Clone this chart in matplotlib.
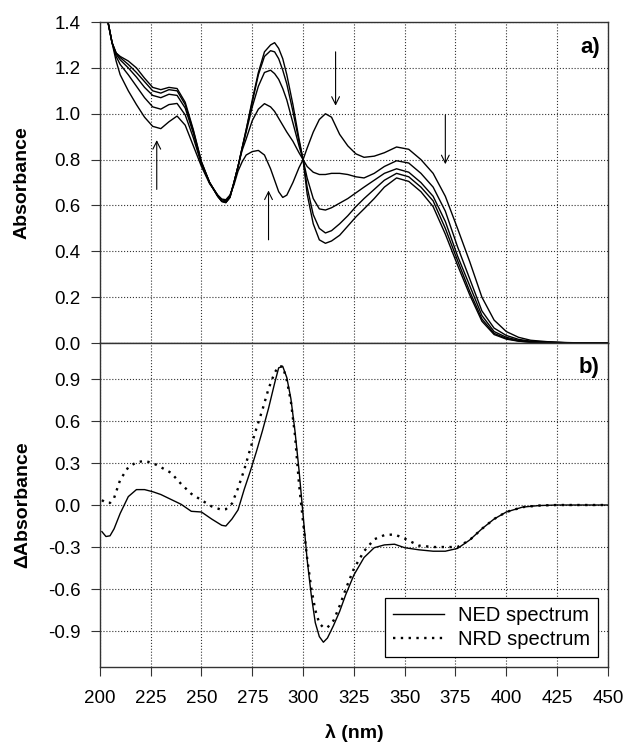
import matplotlib
matplotlib.use('Agg')
import matplotlib.pyplot as plt

plt.rcParams['font.family'] = ['Liberation Sans', 'DejaVu Sans']

# a) スペクトル変化（波長グリッドと5本の吸収スペクトル）
wl_a = [200, 202, 204, 206, 208, 210, 214, 218, 222, 226, 230, 234, 238, 242, 246, 250,
        254, 258, 260, 262, 264, 266, 268, 270, 272, 275, 278, 281, 284, 286, 288, 290, 292, 295,
        298, 300, 302, 305, 308, 311, 314, 318, 322, 326, 330, 335, 340, 346, 352, 358,
        364, 370, 376, 382, 388, 394, 400, 406, 412, 420, 430, 440, 450]
abs_1 = [1.62, 1.50, 1.40, 1.31, 1.23, 1.17, 1.10, 1.04, 0.985, 0.945, 0.935, 0.965, 0.99,
         0.95, 0.86, 0.77, 0.695, 0.645, 0.628, 0.625, 0.645, 0.69, 0.75, 0.79, 0.82, 0.835, 0.84, 0.82,
         0.76, 0.71, 0.66, 0.635, 0.645, 0.70, 0.765, 0.80, 0.85, 0.92, 0.975, 1.0, 0.985,
         0.91, 0.86, 0.825, 0.81, 0.815, 0.83, 0.855, 0.845, 0.80, 0.74, 0.64, 0.50, 0.355,
         0.20, 0.10, 0.05, 0.025, 0.012, 0.006, 0.002, 0.0, 0.0]
abs_2 = [1.62, 1.50, 1.40, 1.31, 1.25, 1.215, 1.17, 1.12, 1.07, 1.03, 1.02, 1.04, 1.045,
         0.995, 0.895, 0.78, 0.70, 0.645, 0.625, 0.62, 0.64, 0.70, 0.77, 0.84, 0.89, 0.97, 1.02, 1.044,
         1.03, 1.01, 0.98, 0.95, 0.92, 0.88, 0.83, 0.80, 0.77, 0.745, 0.735, 0.735, 0.74,
         0.74, 0.735, 0.725, 0.72, 0.74, 0.77, 0.795, 0.785, 0.74, 0.68, 0.575, 0.42, 0.28,
         0.14, 0.065, 0.033, 0.016, 0.008, 0.004, 0.001, 0.0, 0.0]
abs_3 = [1.62, 1.50, 1.40, 1.31, 1.26, 1.235, 1.20, 1.16, 1.115, 1.08, 1.07, 1.085, 1.08,
         1.025, 0.915, 0.785, 0.70, 0.64, 0.62, 0.615, 0.635, 0.70, 0.77, 0.85, 0.92, 1.03, 1.12, 1.18,
         1.19, 1.175, 1.15, 1.11, 1.06, 0.96, 0.86, 0.80, 0.72, 0.63, 0.585, 0.58, 0.59,
         0.61, 0.63, 0.655, 0.68, 0.71, 0.74, 0.76, 0.745, 0.70, 0.64, 0.53, 0.38, 0.25,
         0.12, 0.05, 0.025, 0.012, 0.006, 0.003, 0.001, 0.0, 0.0]
abs_4 = [1.62, 1.50, 1.40, 1.31, 1.265, 1.245, 1.215, 1.18, 1.14, 1.10, 1.09, 1.105, 1.10,
         1.04, 0.925, 0.79, 0.70, 0.64, 0.618, 0.613, 0.635, 0.70, 0.77, 0.85, 0.93, 1.05, 1.17, 1.25,
         1.275, 1.27, 1.24, 1.19, 1.13, 1.01, 0.88, 0.80, 0.68, 0.56, 0.50, 0.48, 0.49,
         0.52, 0.555, 0.595, 0.63, 0.67, 0.71, 0.74, 0.725, 0.68, 0.62, 0.50, 0.36, 0.225,
         0.105, 0.042, 0.02, 0.009, 0.004, 0.002, 0.0, 0.0, 0.0]
abs_5 = [1.62, 1.50, 1.40, 1.31, 1.265, 1.25, 1.23, 1.20, 1.155, 1.115, 1.105, 1.115, 1.11,
         1.05, 0.93, 0.79, 0.70, 0.64, 0.617, 0.612, 0.635, 0.70, 0.77, 0.85, 0.93, 1.06, 1.18, 1.27,
         1.30, 1.31, 1.285, 1.24, 1.17, 1.04, 0.89, 0.80, 0.65, 0.52, 0.45, 0.435, 0.445,
         0.47, 0.51, 0.55, 0.585, 0.63, 0.68, 0.72, 0.705, 0.66, 0.595, 0.475, 0.34, 0.21,
         0.095, 0.037, 0.017, 0.008, 0.003, 0.001, 0.0, 0.0, 0.0]

# b) 差スペクトル
wl_b = [201, 203, 205, 207, 210, 214, 218, 222, 226, 230, 235, 240, 245, 250, 255, 260,
        262, 265, 268, 271, 274, 277, 280, 283, 286, 288, 290, 292, 294, 296, 298, 300,
        302, 304, 306, 308, 310, 312, 315, 318, 321, 325, 330, 335, 340, 345, 350, 357,
        364, 370, 376, 382, 388, 394, 400, 408, 416, 425, 435, 450]
ned = [-0.19, -0.225, -0.22, -0.17, -0.06, 0.06, 0.11, 0.11, 0.095, 0.075, 0.04, 0.005,
       -0.045, -0.05, -0.10, -0.145, -0.15, -0.10, -0.035, 0.11, 0.24, 0.38, 0.53, 0.69,
       0.87, 0.98, 0.99, 0.91, 0.76, 0.53, 0.25, -0.07, -0.39, -0.64, -0.84, -0.94, -0.98,
       -0.95, -0.86, -0.76, -0.64, -0.50, -0.375, -0.305, -0.285, -0.28, -0.305, -0.32,
       -0.33, -0.33, -0.31, -0.25, -0.17, -0.10, -0.05, -0.015, -0.004, 0.0, 0.0, 0.0]
nrd = [0.035, 0.015, 0.015, 0.05, 0.18, 0.27, 0.305, 0.315, 0.30, 0.27, 0.23, 0.15, 0.08,
       0.035, -0.01, -0.035, -0.03, 0.01, 0.12, 0.25, 0.40, 0.545, 0.68, 0.83, 0.945, 0.99,
       0.99, 0.89, 0.74, 0.50, 0.15, -0.12, -0.38, -0.59, -0.75, -0.845, -0.875, -0.875,
       -0.825, -0.72, -0.60, -0.455, -0.33, -0.245, -0.215, -0.21, -0.24, -0.29, -0.30,
       -0.30, -0.30, -0.25, -0.17, -0.10, -0.05, -0.015, -0.004, 0.0, 0.0, 0.0]

# 矢印（波長, 始点, 終点）
arrows = [(228, 0.67, 0.885), (283, 0.45, 0.665), (316, 1.27, 1.035), (370, 0.995, 0.78)]

fig = plt.figure(figsize=(6.28, 7.47), dpi=100)
ax1 = fig.add_axes([0.159, 0.5408, 0.809, 0.4297])
ax2 = fig.add_axes([0.159, 0.1071, 0.809, 0.4337], sharex=ax1)

for y in [abs_1, abs_2, abs_3, abs_4, abs_5]:
    ax1.plot(wl_a, y, color='black', lw=1.0)
for x, y0, y1 in arrows:
    ax1.annotate('', xy=(x, y1), xytext=(x, y0),
                 arrowprops=dict(arrowstyle='->', lw=0.8, color='black',
                                 mutation_scale=14, shrinkA=0, shrinkB=0))

ax2.plot(wl_b, ned, color='black', lw=1.0, label='NED spectrum')
ax2.plot(wl_b, nrd, color='black', lw=1.7, linestyle=(0, (1, 2.3)), label='NRD spectrum')

ax1.set_xlim(200, 450)
ax1.set_ylim(0, 1.4)
ax1.set_yticks([0.0, 0.2, 0.4, 0.6, 0.8, 1.0, 1.2, 1.4])
ax1.set_yticklabels(['%.1f' % v for v in ax1.get_yticks()])
ax2.set_ylim(-1.157, 1.157)
ax2.set_yticks([-0.9, -0.6, -0.3, 0.0, 0.3, 0.6, 0.9])
ax2.set_yticklabels(['%.1f' % v for v in ax2.get_yticks()])
ax2.set_xticks(range(200, 451, 25))

for ax in (ax1, ax2):
    ax.grid(True, linestyle=':', color='#333333', lw=0.8)
    ax.tick_params(direction='out', length=6.5, width=0.8, labelsize=13.5,
                   color='#333333', pad=7.5)
    for s in ax.spines.values():
        s.set_color('#333333')
        s.set_linewidth(1.0)
ax1.tick_params(axis='x', bottom=False, labelbottom=False)
ax2.tick_params(axis='x', pad=10)

ax1.set_ylabel('Absorbance', fontsize=14, fontweight='bold')
ax2.set_ylabel('ΔAbsorbance', fontsize=14, fontweight='bold')
ax1.yaxis.set_label_coords(-0.136, 0.5)
ax2.yaxis.set_label_coords(-0.136, 0.5)
ax2.set_xlabel('λ (nm)', fontsize=14, fontweight='bold', labelpad=12)

ax1.text(446, 1.29, 'a)', ha='right', va='center', fontsize=16, fontweight='bold')
ax2.text(446, 0.98, 'b)', ha='right', va='center', fontsize=16, fontweight='bold')

leg = ax2.legend(loc='lower right', fontsize=14.5, frameon=True, fancybox=False,
                 edgecolor='black', framealpha=1, borderpad=0.4, handlelength=2.5,
                 handletextpad=0.7, labelspacing=0.25, borderaxespad=0.5)
leg.get_frame().set_linewidth(0.9)

plt.savefig('out.png', dpi=100)
